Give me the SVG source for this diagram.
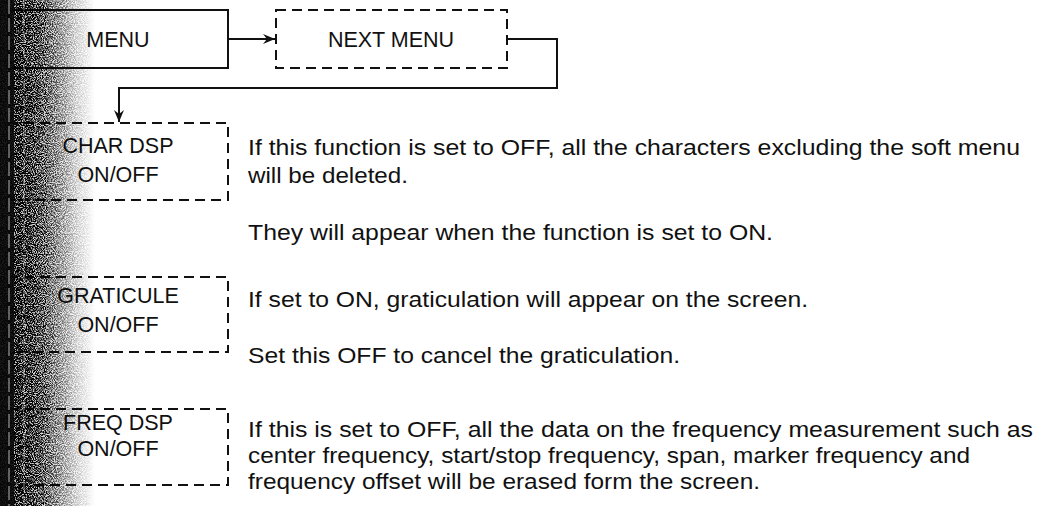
<svg xmlns="http://www.w3.org/2000/svg" width="1042" height="506" viewBox="0 0 1042 506">
  <style>
    .box { fill: none; stroke: #111; stroke-width: 2; }
    .dash { stroke-dasharray: 10 6; }
    .lbl { font-family: "Liberation Sans", Arial, sans-serif; font-size: 21.5px; fill: #111; text-anchor: middle; }
    .txt { font-family: "Liberation Sans", Arial, sans-serif; font-size: 21.5px; fill: #111; }
    .conn { fill: none; stroke: #111; stroke-width: 2; }
  </style>
  <defs>
    <marker id="arr" viewBox="0 0 12 10" refX="12" refY="5" markerWidth="12" markerHeight="10" markerUnits="userSpaceOnUse" orient="auto">
      <path d="M0,0 L12,5 L0,10 L4,5 Z" fill="#111"/>
    </marker>
    <linearGradient id="scan" x1="0" y1="0" x2="1" y2="0">
      <stop offset="0" stop-color="#000" stop-opacity="1"/>
      <stop offset="0.25" stop-color="#000" stop-opacity="0.85"/>
      <stop offset="0.55" stop-color="#000" stop-opacity="0.45"/>
      <stop offset="0.8" stop-color="#000" stop-opacity="0.15"/>
      <stop offset="1" stop-color="#000" stop-opacity="0"/>
    </linearGradient>
    <filter id="speckle" x="0" y="0" width="1" height="1" color-interpolation-filters="sRGB">
      <feTurbulence type="fractalNoise" baseFrequency="0.9" numOctaves="2" seed="7" result="t"/>
      <feColorMatrix in="t" type="matrix" values="0 0 0 0 0  0 0 0 0 0  0 0 0 0 0  3.2 0 0 0 -1.1" result="n"/>
      <feComposite in="n" in2="SourceGraphic" operator="arithmetic" k1="1.6" k2="0" k3="0.25" k4="0"/>
    </filter>
  </defs>
  <rect width="1042" height="506" fill="#fff"/>

  <g id="connectors">
    <line class="conn" x1="228" y1="39" x2="275" y2="39" marker-end="url(#arr)"/>
    <polyline class="conn" points="507,39 557,39 557,88 119,88 119,122" marker-end="url(#arr)"/>
  </g>

  <g id="menu">
    <rect class="box" x="8" y="10" width="220" height="58"/>
    <text class="lbl" x="118" y="47">MENU</text>
  </g>
  <g id="next-menu">
    <rect class="box dash" x="276" y="10" width="231" height="58"/>
    <text class="lbl" x="391" y="47">NEXT MENU</text>
  </g>
  <g id="char-dsp">
    <rect class="box dash" x="8" y="123" width="220" height="77"/>
    <text class="lbl" x="118" y="153">CHAR DSP</text>
    <text class="lbl" x="118" y="182">ON/OFF</text>
  </g>
  <g id="graticule">
    <rect class="box dash" x="8" y="277" width="220" height="75"/>
    <text class="lbl" x="118" y="303">GRATICULE</text>
    <text class="lbl" x="118" y="332">ON/OFF</text>
  </g>
  <g id="freq-dsp">
    <rect class="box dash" x="8" y="409" width="220" height="76"/>
    <text class="lbl" x="118" y="430">FREQ DSP</text>
    <text class="lbl" x="118" y="456">ON/OFF</text>
  </g>

  <g id="descriptions">
    <text class="txt" x="248" y="155" textLength="772" lengthAdjust="spacingAndGlyphs">If this function is set to OFF, all the characters excluding the soft menu</text>
    <text class="txt" x="248" y="183" textLength="160" lengthAdjust="spacingAndGlyphs">will be deleted.</text>
    <text class="txt" x="248" y="240" textLength="525" lengthAdjust="spacingAndGlyphs">They will appear when the function is set to ON.</text>
    <text class="txt" x="248" y="307" textLength="560" lengthAdjust="spacingAndGlyphs">If set to ON, graticulation will appear on the screen.</text>
    <text class="txt" x="248" y="363" textLength="432" lengthAdjust="spacingAndGlyphs">Set this OFF to cancel the graticulation.</text>
    <text class="txt" x="248" y="437" textLength="785" lengthAdjust="spacingAndGlyphs">If this is set to OFF, all the data on the frequency measurement such as</text>
    <text class="txt" x="248" y="463" textLength="722" lengthAdjust="spacingAndGlyphs">center frequency, start/stop frequency, span, marker frequency and</text>
    <text class="txt" x="248" y="489" textLength="512" lengthAdjust="spacingAndGlyphs">frequency offset will be erased form the screen.</text>
  </g>

  <g id="scan-edge">
    <rect x="0" y="0" width="95" height="506" fill="url(#scan)" filter="url(#speckle)"/>
    <rect x="0" y="0" width="14" height="506" fill="#0a0a0a" opacity="0.9"/>
    <line x1="9" y1="0" x2="9" y2="506" stroke="#fff" stroke-width="1" stroke-dasharray="14 4" opacity="0.7"/>
    <line x1="24" y1="0" x2="24" y2="506" stroke="#fff" stroke-width="1" stroke-dasharray="10 6" opacity="0.5"/>
  </g>
</svg>
